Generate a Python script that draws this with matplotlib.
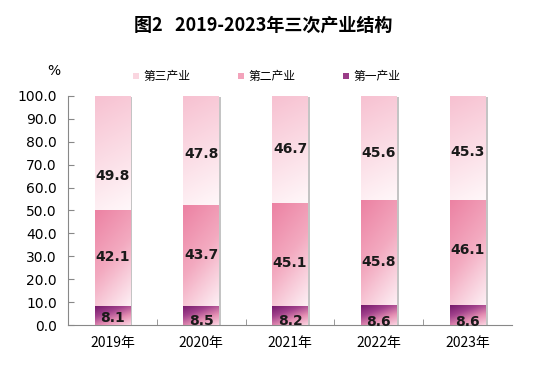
import numpy as np
import matplotlib
matplotlib.use('Agg')
from matplotlib import pylab as plt
from matplotlib.colors import LinearSegmentedColormap
from matplotlib.patches import Rectangle

plt.rcParams['font.family'] = ['Noto Sans CJK SC', 'DejaVu Sans']

years = ['2019年', '2020年', '2021年', '2022年', '2023年']
primary = [8.1, 8.5, 8.2, 8.6, 8.6]
secondary = [42.1, 43.7, 45.1, 45.8, 46.1]
tertiary = [49.8, 47.8, 46.7, 45.6, 45.3]
names = ['第一产业', '第二产业', '第三产业']
yticks = np.arange(0, 101, 10)

# ラベル位置の微調整 (セグメント中央からのずれ)
lab_shift = [
    [-1.0, -2.5, -2.5, -3.0, -3.0],
    [0.5, 0.3, -3.5, -4.0, 1.0],
    [-10.0, -1.5, 0.0, -2.0, -2.0],
]

# 各系列のグラデーション (右下 -> 左上)
grads = [['#fad3e0', '#e58fb3', '#a2428c', '#761a6c'],
         ['#fdeff4', '#f3aac0', '#ec82a3'],
         ['#fff7f9', '#f7c1d1']]
legend_cols = ['#9a3c88', '#f3a3bb', '#fad6e0']


def grad_bar(ax, x, bottom, height, width, colors, mix):
    cmap = LinearSegmentedColormap.from_list('g', colors)
    ny, nx = 60, 20
    yy = np.linspace(0, 1, ny)[:, None]
    xx = np.linspace(0, 1, nx)[None, :]
    z = np.clip(yy * (1 - mix) + (1 - xx) * mix, 0, 1)
    ax.imshow(z, cmap=cmap, origin='lower', aspect='auto', interpolation='bicubic',
              extent=[x - width / 2, x + width / 2, bottom, bottom + height], zorder=3)


fig = plt.figure(figsize=(5.5, 3.66), dpi=100)
ax = fig.add_axes([0.1236, 0.112, 0.8074, 0.626])

w = 0.4
mixes = [0.4, 0.3, 0.15]
for i in range(len(years)):
    total = primary[i] + secondary[i] + tertiary[i]
    # 影
    ax.add_patch(Rectangle((i - w / 2 + 0.025, 0), w, total - 0.6, color='#c4c4c4', zorder=2, lw=0))
    bottom = 0
    for k, vals in enumerate([primary, secondary, tertiary]):
        grad_bar(ax, i, bottom, vals[i], w, grads[k], mixes[k])
        ty = bottom + vals[i] / 2 + lab_shift[k][i]
        ax.text(i, ty, f'{vals[i]:.1f}', ha='center', va='center', fontsize=10,
                fontweight='bold', color='#1a1a1a', zorder=5, family='DejaVu Sans')
        bottom += vals[i]

ax.set_xlim(-0.5, len(years) - 0.5)
ax.set_ylim(0, 100)
ax.set_yticks(yticks)
ax.set_yticklabels([f'{v:.1f}' for v in yticks], family='DejaVu Sans', fontsize=10)
ax.set_xticks(range(len(years)))
ax.set_xticklabels(years, fontsize=10)
ax.set_xticks(np.arange(0.5, len(years) - 0.5, 1), minor=True)
ax.tick_params(axis='x', which='major', length=0, pad=8)
ax.tick_params(axis='x', which='minor', length=4, direction='in', color='#888888')
ax.tick_params(axis='y', length=4, direction='in', color='#888888', pad=8)
for s in ['top', 'right']:
    ax.spines[s].set_visible(False)
for s in ['left', 'bottom']:
    ax.spines[s].set_color('#888888')

fig.text(0.478, 0.932, '图2   2019-2023年三次产业结构', ha='center', va='center',
         fontsize=13, fontweight='bold')
fig.text(0.097, 0.805, '%', ha='center', va='center', fontsize=10, family='DejaVu Sans')

# 凡例
leg_x = [0.242, 0.433, 0.624]
for lx, name, col in zip(leg_x, names[::-1], legend_cols[::-1]):
    fig.patches.append(Rectangle((lx, 0.783), 0.011, 0.017, transform=fig.transFigure,
                                 color=col, lw=0))
    fig.text(lx + 0.019, 0.792, name, ha='left', va='center', fontsize=8.5)

plt.savefig('out.png', dpi=100)
